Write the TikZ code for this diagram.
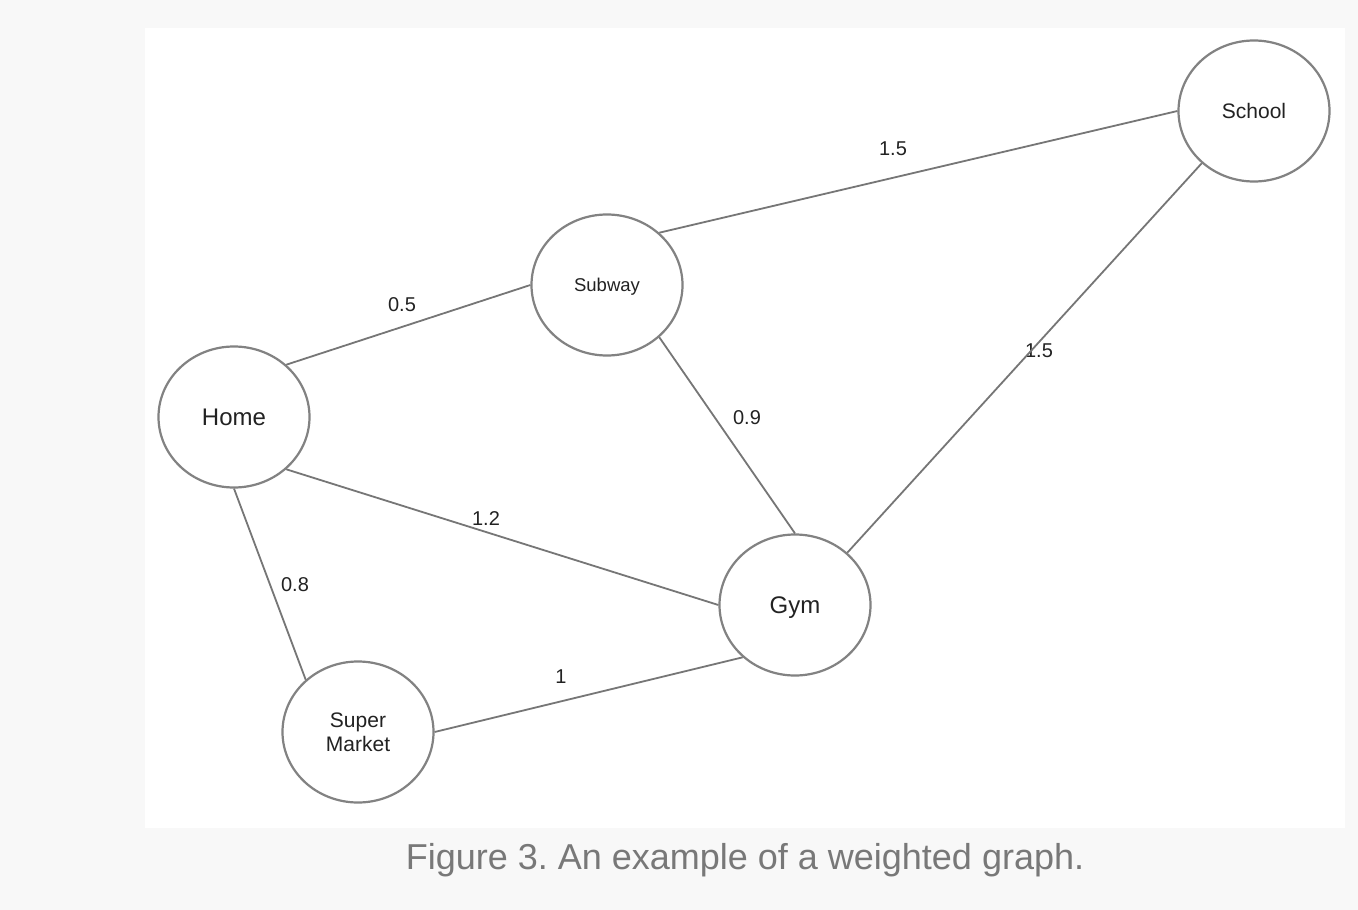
\documentclass[tikz,border=0pt]{standalone}
\usepackage{fontspec}
\setmainfont{Liberation Sans}
\usepackage{tikz}
\usetikzlibrary{shapes.geometric}

\definecolor{pagegray}{RGB}{248,248,248}
\definecolor{ringgray}{RGB}{130,130,130}
\definecolor{linegray}{RGB}{118,118,118}
\definecolor{inkgray}{RGB}{34,34,34}
\definecolor{capgray}{RGB}{120,120,120}

\begin{document}
\frenchspacing
\begin{tikzpicture}[x=1pt, y=-1pt, every text node part/.style={align=center}]

\tikzstyle{place}=[ellipse, draw=ringgray, line width=2.2pt, fill=white, minimum width=151pt, minimum height=141pt, inner sep=0pt, text depth=0pt, text=inkgray]
\tikzstyle{edge}=[draw=linegray, line width=1.8pt]
\tikzstyle{weight}=[text=inkgray, inner sep=1pt, font=\fontsize{20}{24}\selectfont]

\useasboundingbox (0,0) rectangle (1358,910);
\fill [pagegray] (0,0) rectangle (1358,910);
\fill [white] (145,28) rectangle (1345,828);

\node [place, font=\fontsize{24}{28}\selectfont] (home)    at ( 234, 417) {Home};
\node [place, font=\fontsize{18.5}{22}\selectfont] (subway) at ( 607, 285) {Subway};
\node [place, font=\fontsize{21}{24}\selectfont] (school)  at (1254, 111) {School};
\node [place, font=\fontsize{24}{28}\selectfont] (gym)     at ( 795, 605) {Gym};
\node [place, font=\fontsize{21}{24}\selectfont] (market)  at ( 358, 732) {Super\\Market};

\node [weight] (w1) at ( 402, 305) {0.5};
\node [weight] (w2) at ( 893, 149) {1.5};
\node [weight] (w3) at (1039, 351) {1.5};
\node [weight] (w4) at ( 747, 418) {0.9};
\node [weight] (w5) at ( 486, 519) {1.2};
\node [weight] (w6) at ( 295, 585) {0.8};
\node [weight] (w7) at ( 561, 677) {1};

\path [edge] (home.45) -- (subway.west);
\path [edge] (home.-45) -- (gym.west);
\path [edge] (home.south) -- (market.135);
\path [edge] (market.east) -- (gym.-135);
\path [edge] (subway.45) -- (school.west);
\path [edge] (subway.-45) -- (gym.north);
\path [edge] (school.-135) -- (gym.45);

\node [text=capgray, font=\fontsize{36}{40}\selectfont] (caption) at (745, 860) {Figure 3. An example of a weighted graph.};

\end{tikzpicture}
\end{document}
